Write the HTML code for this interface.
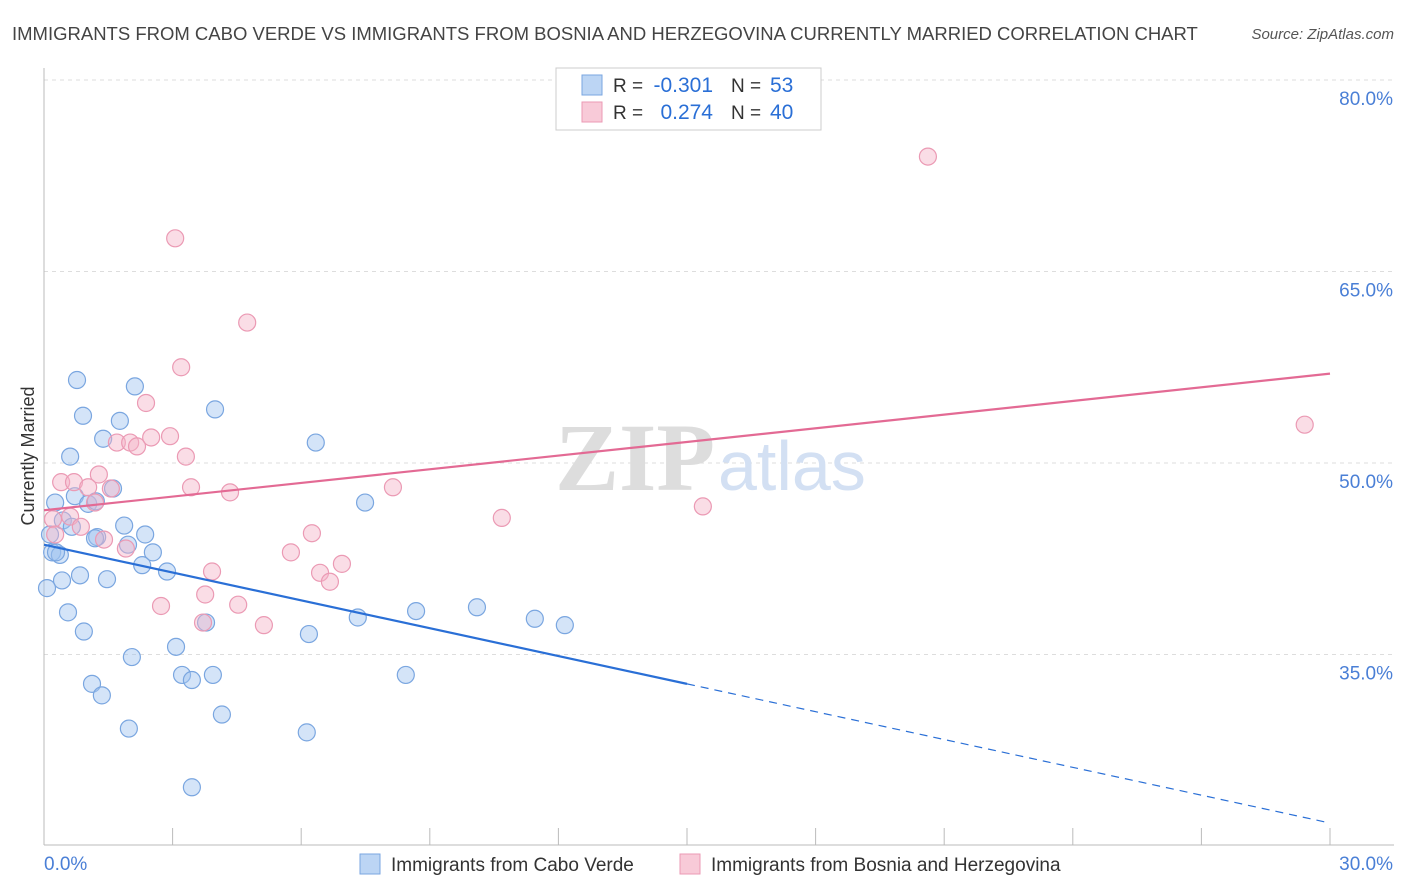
<!DOCTYPE html>
<html><head><meta charset="utf-8">
<style>
body{margin:0;background:#fff;font-family:"Liberation Sans",sans-serif;}
#wrap{position:relative;width:1406px;height:892px;overflow:hidden;}
</style></head>
<body>
<div id="wrap">
<svg id="svg" width="1406" height="892" xmlns="http://www.w3.org/2000/svg"></svg>
</div>
<script>
const blueX=[0.77,2.12,0.91,3.99,1.77,1.38,6.34,0.61,0.72,0.26,1.61,1.03,1.21,7.49,0.44,0.65,1.87,1.24,0.14,2.36,1.96,2.54,0.19,0.37,2.29,2.87,0.84,1.47,0.42,0.07,0.56,8.68,10.10,7.32,11.45,12.15,3.78,0.93,6.18,3.08,2.05,3.22,3.94,8.44,3.45,1.12,1.35,4.15,1.98,6.13,3.45,1.19,0.28];
const blueY=[56.5,56.0,53.7,54.2,53.3,51.9,51.6,50.5,47.4,46.9,48.0,46.8,47.0,46.9,45.5,45.0,45.1,44.2,44.4,44.4,43.6,43.0,43.0,42.8,42.0,41.5,41.2,40.9,40.8,40.2,38.3,38.4,38.7,37.9,37.8,37.3,37.5,36.8,36.6,35.6,34.8,33.4,33.4,33.4,33.0,32.7,31.8,30.3,29.2,28.9,24.6,44.1,43.0];
const pinkX=[20.62,3.06,4.74,3.20,2.38,2.94,1.70,2.01,2.17,2.50,3.31,1.28,0.40,0.70,1.03,1.56,3.43,4.34,8.14,1.19,0.21,0.61,0.86,1.40,1.91,6.25,5.76,15.37,10.68,6.95,3.92,6.44,6.67,3.76,2.73,4.53,3.71,5.13,29.41,0.26];
const pinkY=[74.0,67.6,61.0,57.5,54.7,52.1,51.6,51.6,51.3,52.0,50.5,49.1,48.5,48.5,48.1,48.0,48.1,47.7,48.1,46.9,45.6,45.8,45.0,44.0,43.3,44.5,43.0,46.6,45.7,42.1,41.5,41.4,40.7,39.7,38.8,38.9,37.5,37.3,53.0,44.4];
const blueTrend=[43.6,21.8]; // at x=0 and x=30
const pinkTrend=[46.3,57.0];
const yTicks=[80,65,50,35];
const xTickCount=10;

const NS="http://www.w3.org/2000/svg";
const svg=document.getElementById('svg');
const X=v=>44+v*(1330-44)/30;
const Y=v=>463-(v-50)*(191.5/15);
function el(tag,attrs,parent){const e=document.createElementNS(NS,tag);for(const k in attrs)e.setAttribute(k,attrs[k]);(parent||svg).appendChild(e);return e;}
function txt(s,attrs){const t=el('text',attrs);t.textContent=s;return t;}

// title
let t=txt('IMMIGRANTS FROM CABO VERDE VS IMMIGRANTS FROM BOSNIA AND HERZEGOVINA CURRENTLY MARRIED CORRELATION CHART',{x:12,y:40,'font-size':18.5,fill:'#444'});

t=txt('Source: ZipAtlas.com',{x:1394,y:39,'font-size':15,fill:'#555','font-style':'italic','text-anchor':'end'});


// grid
yTicks.forEach(v=>{
  const g=el('line',{x1:44,x2:1394,y1:Y(v),y2:Y(v),stroke:'#ddd','stroke-dasharray':'4,4'});
  
  const l=txt(v.toFixed(1)+'%',{x:1393,y:Y(v)+25,'font-size':19,fill:'#4a7fd6','text-anchor':'end'});
  
});
// axes
let a=el('line',{x1:44,x2:44,y1:68,y2:845,stroke:'#bbb'});

a=el('line',{x1:44,x2:1394,y1:845,y2:845,stroke:'#bbb'});

for(let i=0;i<=xTickCount;i++){const tk=el('line',{x1:X(i*3),x2:X(i*3),y1:828,y2:845,stroke:'#bbb'});
}
t=txt('0.0%',{x:44,y:870,'font-size':19,fill:'#4a7fd6'});
t=txt('30.0%',{x:1393,y:870,'font-size':19,fill:'#4a7fd6','text-anchor':'end'});
t=txt('Currently Married',{x:34,y:456,'font-size':18,fill:'#333','text-anchor':'middle',transform:'rotate(-90 34 456)'});


// watermark
t=txt('ZIP',{x:555,y:490,'font-size':96,fill:'#ddd','font-family':'Liberation Serif','font-weight':'bold'});

t=txt('atlas',{x:718,y:490,'font-size':70,fill:'#d3e0f3'});


// points
for(let i=0;i<blueX.length;i++){const c=el('circle',{cx:X(blueX[i]),cy:Y(blueY[i]),r:8.5,fill:'rgba(160,195,240,0.45)',stroke:'#7aa6e0','stroke-width':1.2});
}
for(let i=0;i<pinkX.length;i++){const c=el('circle',{cx:X(pinkX[i]),cy:Y(pinkY[i]),r:8.5,fill:'rgba(245,180,200,0.45)',stroke:'#eb9ab4','stroke-width':1.2});
}

// trends
const bAt=x=>blueTrend[0]+(blueTrend[1]-blueTrend[0])*x/30;
let l=el('line',{x1:X(0),y1:Y(bAt(0)),x2:X(15),y2:Y(bAt(15)),stroke:'#2a6fd6','stroke-width':2.2});

l=el('line',{x1:X(15),y1:Y(bAt(15)),x2:X(30),y2:Y(bAt(30)),stroke:'#2a6fd6','stroke-width':1.2,'stroke-dasharray':'8,6'});

l=el('line',{x1:X(0),y1:Y(pinkTrend[0]),x2:X(30),y2:Y(pinkTrend[1]),stroke:'#e36a94','stroke-width':2.2});


// legend box
const lg=el('rect',{x:556,y:68,width:265,height:62,fill:'#fff',stroke:'#ccc'});

[[0,'rgba(160,195,240,0.7)','#7aa6e0','-0.301','53'],[1,'rgba(245,180,200,0.7)','#eb9ab4','0.274','40']].forEach(([i,f,s,r,n])=>{
  const y=85+i*27;
  const sw=el('rect',{x:582,y:y-10,width:20,height:20,fill:f,stroke:s});
  
  let q=txt('R =',{x:613,y:y+7,'font-size':19,fill:'#333'});
  q=txt(r,{x:713,y:y+7,'font-size':21,fill:'#2a6fd6','text-anchor':'end'});
  q=txt('N =',{x:731,y:y+7,'font-size':19,fill:'#333'});
  q=txt(n,{x:770,y:y+7,'font-size':21,fill:'#2a6fd6'});
});

// bottom legend
[[360,'rgba(160,195,240,0.7)','#7aa6e0','Immigrants from Cabo Verde','legend-cabo-verde'],[680,'rgba(245,180,200,0.7)','#eb9ab4','Immigrants from Bosnia and Herzegovina','legend-bosnia']].forEach(([x,f,s,lab,nm])=>{
  const sw=el('rect',{x:x,y:854,width:20,height:20,fill:f,stroke:s});
  
  const q=txt(lab,{x:x+31,y:871,'font-size':19,fill:'#333'});
  
});
</script>
</body></html>
